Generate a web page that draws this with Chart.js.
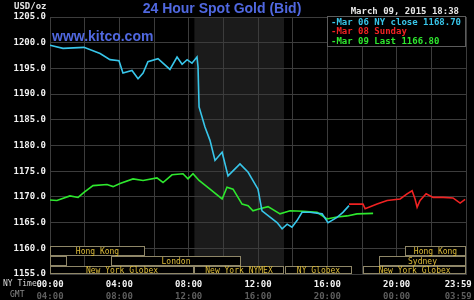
<!DOCTYPE html>
<html>
<head>
<meta charset="utf-8">
<script src="https://cdn.jsdelivr.net/npm/chart.js@4/dist/chart.umd.min.js"></script>
<style>
  html, body { margin: 0; padding: 0; background: #000; }
  #wrap { width: 474px; height: 300px; }
</style>
</head>
<body>
<div id="wrap"><canvas id="gold"></canvas></div>
<script>
// values (hours of NY time, USD/oz)
const cyanHours = [0, 0.75, 1.96, 2.89, 3.46, 3.98, 4.21, 4.73, 5.08, 5.37, 5.65, 6.23, 6.92, 7.33, 7.62, 7.91, 8.19, 8.48, 8.54, 8.6, 8.94, 9.23, 9.52, 9.93, 10.27, 10.96, 11.43, 12.0, 12.23, 13.1, 13.39, 13.68, 13.96, 14.25, 14.54, 15.0, 15.7, 16.04, 16.56, 16.9, 17.25];
const cyanPrices = [1199.5, 1198.9, 1199.1, 1197.9, 1196.7, 1196.5, 1194.1, 1194.6, 1193.0, 1194.1, 1196.3, 1196.9, 1194.8, 1197.2, 1195.8, 1196.7, 1196.0, 1197.2, 1195.3, 1187.5, 1183.6, 1181.0, 1177.1, 1178.7, 1174.1, 1176.4, 1174.8, 1171.5, 1167.3, 1165.0, 1163.8, 1164.7, 1164.1, 1165.4, 1167.0, 1167.0, 1166.7, 1165.0, 1166.0, 1167.0, 1168.3];

const redHours = [17.25, 18.06, 18.18, 18.87, 19.45, 20.2, 20.6, 20.89, 21.06, 21.18, 21.35, 21.7, 22.1, 22.68, 23.25, 23.66, 23.95];
const redPrices = [1168.6, 1168.6, 1167.7, 1168.6, 1169.3, 1169.6, 1170.6, 1171.2, 1169.6, 1168.0, 1169.3, 1170.6, 1169.9, 1169.9, 1169.8, 1168.8, 1169.5];

const greenHours = [0, 0.4, 1.15, 1.62, 1.96, 2.48, 3.29, 3.64, 4.04, 4.79, 5.37, 6.17, 6.52, 7.04, 7.67, 7.96, 8.25, 8.6, 9.23, 9.93, 10.21, 10.56, 11.08, 11.43, 11.71, 12.0, 12.58, 13.27, 13.85, 14.6, 15.41, 15.98, 16.56, 17.14, 17.71, 18.64];
const greenPrices = [1169.4, 1169.3, 1170.2, 1169.9, 1170.9, 1172.2, 1172.4, 1172.0, 1172.6, 1173.5, 1173.2, 1173.7, 1172.8, 1174.3, 1174.5, 1173.5, 1174.5, 1173.2, 1171.5, 1169.6, 1171.9, 1171.5, 1168.6, 1168.3, 1167.3, 1167.6, 1168.1, 1166.7, 1167.3, 1167.2, 1167.0, 1165.7, 1166.1, 1166.3, 1166.7, 1166.8];

const seriesLabels = ['Mar 06 NY close 1168.70', 'Mar 08 Sunday', 'Mar 09 Last 1166.80'];

// x tick labels (NY time and GMT)
const tickHours = [0, 4, 8, 12, 16, 20, 23.55];
const nyTicks = ['00:00', '04:00', '08:00', '12:00', '16:00', '20:00', '23:59'];
const gmtTicks = ['04:00', '08:00', '12:00', '16:00', '20:00', '00:00', '03:59'];

// trading sessions along the bottom
const sessionNames = ['Hong Kong', 'Hong Kong', '', 'London', 'Sydney', 'New York Globex', 'New York NYMEX', 'NY Globex', 'New York Globex'];
const sessionStart = [0, 20.5, 0, 3.5, 19, 0, 8.33, 13.55, 18.05];
const sessionEnd =   [5.5, 24, 1, 11, 24, 8.33, 13.5, 17.4, 24];
const sessionRow =   [0, 0, 1, 1, 1, 2, 2, 2, 2];
const rowTop = [1160.5, 1158.5, 1156.6];
const rowBottom = [1158.5, 1156.6, 1155];

// NYMEX pit hours shading
const pitStart = 8.33;
const pitEnd = 13.5;

const MONO = '"DejaVu Sans Mono", monospace';

const toPoints = (hs, ps) => hs.map((h, i) => ({ x: h, y: ps[i] }));

const decor = {
  id: 'decor',
  beforeDraw(chart) {
    const { ctx, chartArea: a, scales: { x } } = chart;
    ctx.save();
    ctx.fillStyle = '#1b1b1b';
    const x0 = x.getPixelForValue(pitStart), x1 = x.getPixelForValue(pitEnd);
    ctx.fillRect(x0, a.top, x1 - x0, a.bottom - a.top);
    ctx.restore();
  },
  afterDraw(chart) {
    const { ctx, scales: { x, y } } = chart;
    ctx.save();

    // sessions
    ctx.font = '8px ' + MONO;
    ctx.textAlign = 'center';
    ctx.textBaseline = 'middle';
    sessionNames.forEach((name, i) => {
      const x0 = Math.round(x.getPixelForValue(sessionStart[i])) + 0.5;
      const x1 = Math.round(x.getPixelForValue(sessionEnd[i])) - 0.5;
      const y0 = Math.round(y.getPixelForValue(rowTop[sessionRow[i]])) + 0.5;
      const y1 = Math.round(y.getPixelForValue(rowBottom[sessionRow[i]])) - 0.5;
      ctx.fillStyle = '#000';
      ctx.fillRect(x0, y0, x1 - x0, y1 - y0);
      ctx.strokeStyle = '#8f8768';
      ctx.lineWidth = 1;
      ctx.strokeRect(x0, y0, x1 - x0, y1 - y0);
      if (name) {
        ctx.fillStyle = '#dcbb38';
        ctx.fillText(name, (x0 + x1) / 2, (y0 + y1) / 2 + 0.5);
      }
    });

    // legend box
    ctx.fillStyle = '#000';
    ctx.fillRect(327.5, 16.5, 138, 30);
    ctx.strokeStyle = '#5c5c5c';
    ctx.strokeRect(327.5, 16.5, 138, 30);
    ctx.font = 'bold 9px ' + MONO;
    ctx.textAlign = 'left';
    chart.data.datasets.forEach((ds, i) => {
      ctx.fillStyle = ds.borderColor;
      ctx.fillText('-' + ds.label, 331, 22.5 + i * 9.5);
    });

    // header texts
    ctx.fillStyle = '#e6e6e6';
    ctx.font = 'bold 9px ' + MONO;
    ctx.textAlign = 'left';
    ctx.fillText('USD/oz', 14, 7);
    ctx.textAlign = 'right';
    ctx.fillText('March 09, 2015 18:38', 459, 12);

    ctx.fillStyle = '#5068e0';
    ctx.font = 'bold 14px "Liberation Sans", Arial, sans-serif';
    ctx.textAlign = 'center';
    ctx.fillText('24 Hour Spot Gold (Bid)', 222, 9);
    ctx.textAlign = 'left';
    ctx.fillText('www.kitco.com', 52, 37);

    ctx.font = '8px ' + MONO;
    ctx.fillStyle = '#d8d8d8';
    ctx.fillText('NY Time', 3, 284);
    ctx.fillStyle = '#8a8a8a';
    ctx.fillText('GMT', 10, 295);
    ctx.restore();
  }
};

const fixX = h => s => { s.height = h; s.paddingLeft = 0; s.paddingRight = 0; };

new Chart(document.getElementById('gold'), {
  type: 'line',
  data: {
    datasets: [
      { label: seriesLabels[0], data: toPoints(cyanHours, cyanPrices), borderColor: '#38c6ea' },
      { label: seriesLabels[1], data: toPoints(redHours, redPrices), borderColor: '#f02222' },
      { label: seriesLabels[2], data: toPoints(greenHours, greenPrices), borderColor: '#2ee82e' }
    ]
  },
  options: {
    responsive: true,
    maintainAspectRatio: false,
    animation: false,
    layout: { padding: { top: 17, right: 8, left: 0, bottom: 0 } },
    elements: {
      line: { borderWidth: 1.6, tension: 0 },
      point: { radius: 0 }
    },
    plugins: { legend: { display: false }, tooltip: { enabled: false } },
    scales: {
      x: {
        type: 'linear', min: 0, max: 24, weight: 0,
        ticks: { display: false, stepSize: 2 },
        grid: { color: '#3c3c3c', drawTicks: false },
        border: { color: '#3c3c3c' },
        afterFit: fixX(0)
      },
      xNY: {
        type: 'linear', position: 'bottom', min: 0, max: 24, weight: 1,
        afterBuildTicks: s => { s.ticks = tickHours.map(v => ({ value: v })); },
        ticks: {
          padding: 5, color: '#f2f2f2', maxRotation: 0, autoSkip: false,
          font: { family: MONO, size: 9, weight: 'bold' },
          callback: (v, i) => nyTicks[i]
        },
        grid: { display: false, drawTicks: false },
        border: { display: false },
        afterFit: fixX(13)
      },
      xGMT: {
        type: 'linear', position: 'bottom', min: 0, max: 24, weight: 2,
        afterBuildTicks: s => { s.ticks = tickHours.map(v => ({ value: v })); },
        ticks: {
          padding: 4, color: '#5e5e5e', maxRotation: 0, autoSkip: false,
          font: { family: MONO, size: 9, weight: 'bold' },
          callback: (v, i) => gmtTicks[i]
        },
        grid: { display: false, drawTicks: false },
        border: { display: false },
        afterFit: fixX(13)
      },
      y: {
        min: 1155, max: 1205,
        ticks: {
          stepSize: 5, padding: 4, color: '#f2f2f2',
          font: { family: MONO, size: 9, weight: 'bold' },
          callback: v => v.toFixed(1)
        },
        grid: { color: '#3c3c3c', drawTicks: false },
        border: { color: '#3c3c3c' },
        afterFit: s => { s.width = 50; s.paddingTop = 0; s.paddingBottom = 0; }
      }
    }
  },
  plugins: [decor]
});
</script>
</body>
</html>
